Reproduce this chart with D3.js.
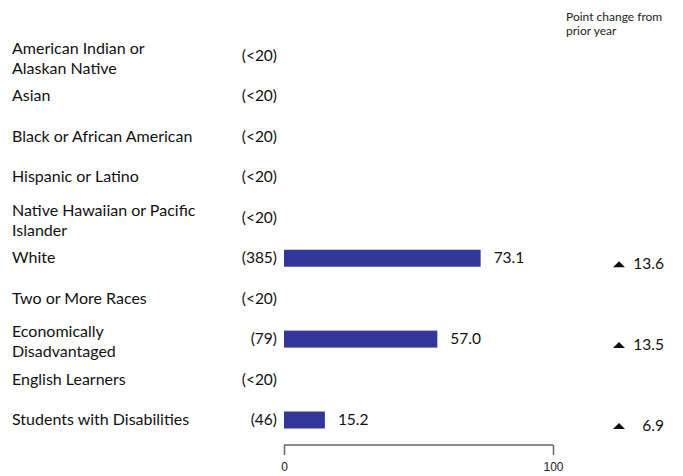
<!DOCTYPE html>
<html>
<head>
<meta charset="utf-8">
<script src="https://cdn.jsdelivr.net/npm/d3@7"></script>
<style>
  body { margin: 0; background: #fff; }
  svg { font-family: Lato, "Open Sans", sans-serif; }
  .axis path, .axis line { stroke: #666; stroke-width: 1.5; }
  .axis text { font-size: 12px; fill: #222; }
</style>
</head>
<body>
<svg width="683" height="476"></svg>
<script>
// **** data ****
var groups = ["American Indian or|Alaskan Native", "Asian", "Black or African American",
    "Hispanic or Latino", "Native Hawaiian or Pacific|Islander", "White", "Two or More Races",
    "Economically|Disadvantaged", "English Learners", "Students with Disabilities"];
var counts = ["(<20)", "(<20)", "(<20)", "(<20)", "(<20)", "(385)", "(<20)", "(79)", "(<20)", "(46)"];
var values = [null, null, null, null, null, 73.1, null, 57.0, null, 15.2];
var changes = [null, null, null, null, null, 13.6, null, 13.5, null, 6.9];
var tickValues = [0, 100];

var data = groups.map(function(g, i) {
    return { group: g, count: counts[i], value: values[i], change: changes[i] };
});

var svg = d3.select("svg");

// **** scales ****
var xScale = d3.scaleLinear().domain([0, 100]).range([284, 553]);
var yScale = d3.scalePoint().domain(d3.range(groups.length)).range([56, 420]);

// axis
svg.append("g").attr("class", "axis")
    .attr("transform", "translate(0,445)")
    .call(d3.axisBottom(xScale).tickValues(tickValues).tickSize(10).tickSizeOuter(0)
        .tickFormat(d3.format("d")))
    .call(function(g) {
        g.select(".domain").attr("d", "M" + xScale(0) + ",0H" + xScale(100));
        g.selectAll(".tick text").attr("y", 17);
    });

// header
svg.append("text")
    .attr("x", 566).attr("y", 21)
    .attr("font-size", 12).attr("fill", "#222")
    .selectAll("tspan")
    .data(["Point change from", "prior year"])
    .enter().append("tspan")
    .attr("x", 566).attr("dy", function(d, i) { return i ? 14 : 0; })
    .text(function(d) { return d; });

var rows = svg.selectAll("g.row")
    .data(data)
    .enter()
    .append("g")
    .attr("class", "row")
    .attr("transform", function(d, i) {
        return "translate(0," + yScale(i) + ")";
    });

rows.each(function(d) {
    var g = d3.select(this);
    var lines = d.group.split("|");

    var lbl = g.append("text")
        .attr("x", 12)
        .attr("font-size", 16).attr("fill", "#111");
    lbl.selectAll("tspan")
        .data(lines)
        .enter().append("tspan")
        .attr("x", 12)
        .attr("y", function(t, j) { return (lines.length > 1 ? -2 : 5) + j * 20; })
        .text(function(t) { return t; });

    g.append("text")
        .attr("x", 277).attr("y", 5)
        .attr("text-anchor", "end")
        .attr("font-size", 15.5).attr("fill", "#111")
        .text(d.count);

    if (d.value != null) {
        g.append("rect")
            .attr("x", xScale(0))
            .attr("y", -8.5)
            .attr("width", xScale(d.value) - xScale(0))
            .attr("height", 17)
            .attr("fill", "#34379a");

        g.append("text")
            .attr("x", xScale(d.value) + 13).attr("y", 5)
            .attr("font-size", 15.5).attr("fill", "#111")
            .text(d3.format(".1f")(d.value));
    }

    if (d.change != null) {
        g.append("path")
            .attr("d", "M-6,9L0,3L6,9Z")
            .attr("transform", "translate(619,0)")
            .attr("fill", "#111");

        g.append("text")
            .attr("x", 664).attr("y", 11)
            .attr("text-anchor", "end")
            .attr("font-size", 15.5).attr("fill", "#111")
            .text(d3.format(".1f")(d.change));
    }
});
</script>
</body>
</html>
